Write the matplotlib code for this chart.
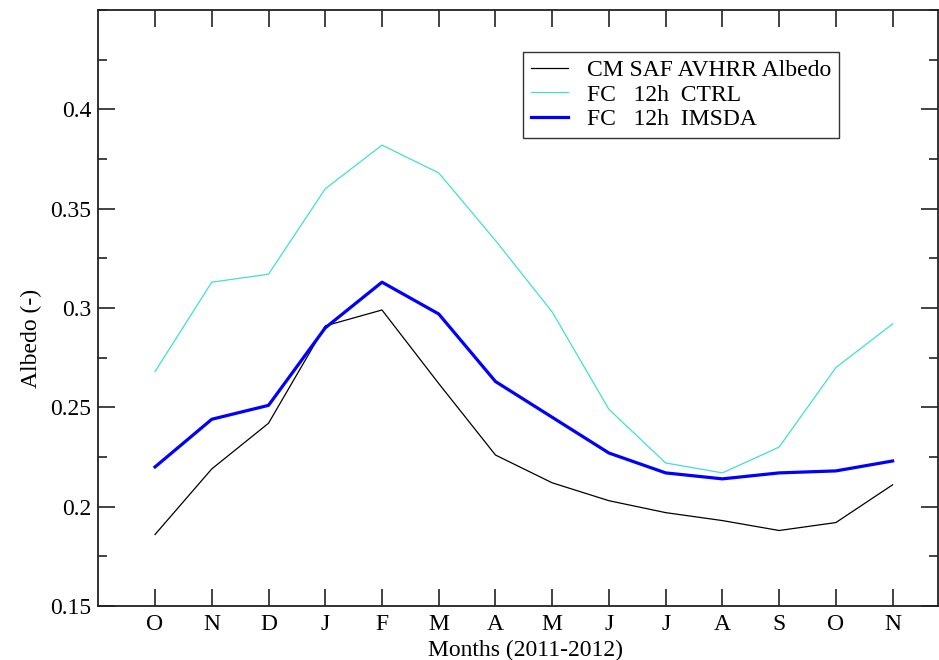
import matplotlib
matplotlib.use("Agg")
import matplotlib.pyplot as plt
from matplotlib.ticker import MultipleLocator

plt.rcParams['font.family'] = ['Liberation Serif', 'DejaVu Serif']

months = ['O', 'N', 'D', 'J', 'F', 'M', 'A', 'M', 'J', 'J', 'A', 'S', 'O', 'N']
cmsaf_albedo = [0.186, 0.219, 0.242, 0.291, 0.299, 0.262, 0.226, 0.212,
                0.203, 0.197, 0.193, 0.188, 0.192, 0.211]
fc_ctrl = [0.268, 0.313, 0.317, 0.360, 0.382, 0.368, 0.334, 0.298,
           0.249, 0.222, 0.217, 0.230, 0.270, 0.292]
fc_imsda = [0.220, 0.244, 0.251, 0.290, 0.313, 0.297, 0.263, 0.245,
            0.227, 0.217, 0.214, 0.217, 0.218, 0.223]
series_labels = ['CM SAF AVHRR Albedo', 'FC   12h  CTRL', 'FC   12h  IMSDA']

W, H = 939, 660
fig = plt.figure(figsize=(W / 100, H / 100), dpi=100)
ax = fig.add_axes([98.3 / W, 1 - 606 / H, (938 - 98.3) / W, (606 - 10) / H])

x = list(range(1, len(months) + 1))
ax.plot(x, cmsaf_albedo, color='black', lw=0.9, label=series_labels[0])
ax.plot(x, fc_ctrl, color='#40E0D0', lw=0.9, label=series_labels[1])
ax.plot(x, fc_imsda, color='#0000FF', lw=2.3, label=series_labels[2])

ax.set_xlim(0, 14.8)
ax.set_ylim(0.15, 0.45)
ax.set_xticks(x)
ax.set_xticklabels(months)
ax.set_yticks([0.15, 0.2, 0.25, 0.3, 0.35, 0.4])
ax.set_yticklabels(['0.15', '0.2', '0.25', '0.3', '0.35', '0.4'])
ax.yaxis.set_minor_locator(MultipleLocator(0.025))

for s in ax.spines.values():
    s.set_linewidth(1.3)
    s.set_color('#222222')

ax.tick_params(axis='both', which='major', direction='in', length=12.5,
               width=1.2, labelsize=17, color='#222222')
ax.tick_params(axis='x', top=True, pad=6)
ax.tick_params(axis='y', right=True, pad=5)
ax.tick_params(axis='y', which='minor', direction='in', length=6.5,
               width=1.2, right=True, color='#222222')

ax.set_xlabel('Months (2011-2012)', fontsize=17, labelpad=3)
ax.xaxis.label.set_x((525 - 98.3) / (938 - 98.3))
ax.set_ylabel('Albedo (-)', fontsize=17, labelpad=6)
ax.yaxis.label.set_y((606 - 338) / 596)

leg = ax.legend(loc='upper left', bbox_to_anchor=(523 / W, 1 - 52 / H),
                bbox_transform=fig.transFigure, borderaxespad=0,
                fontsize=17, frameon=True, fancybox=False,
                handlelength=1.6, handletextpad=0.8, labelspacing=0.13,
                borderpad=0.32)
leg.get_frame().set_edgecolor('black')
leg.get_frame().set_linewidth(1.0)

fig.savefig('out.png', dpi=100)
